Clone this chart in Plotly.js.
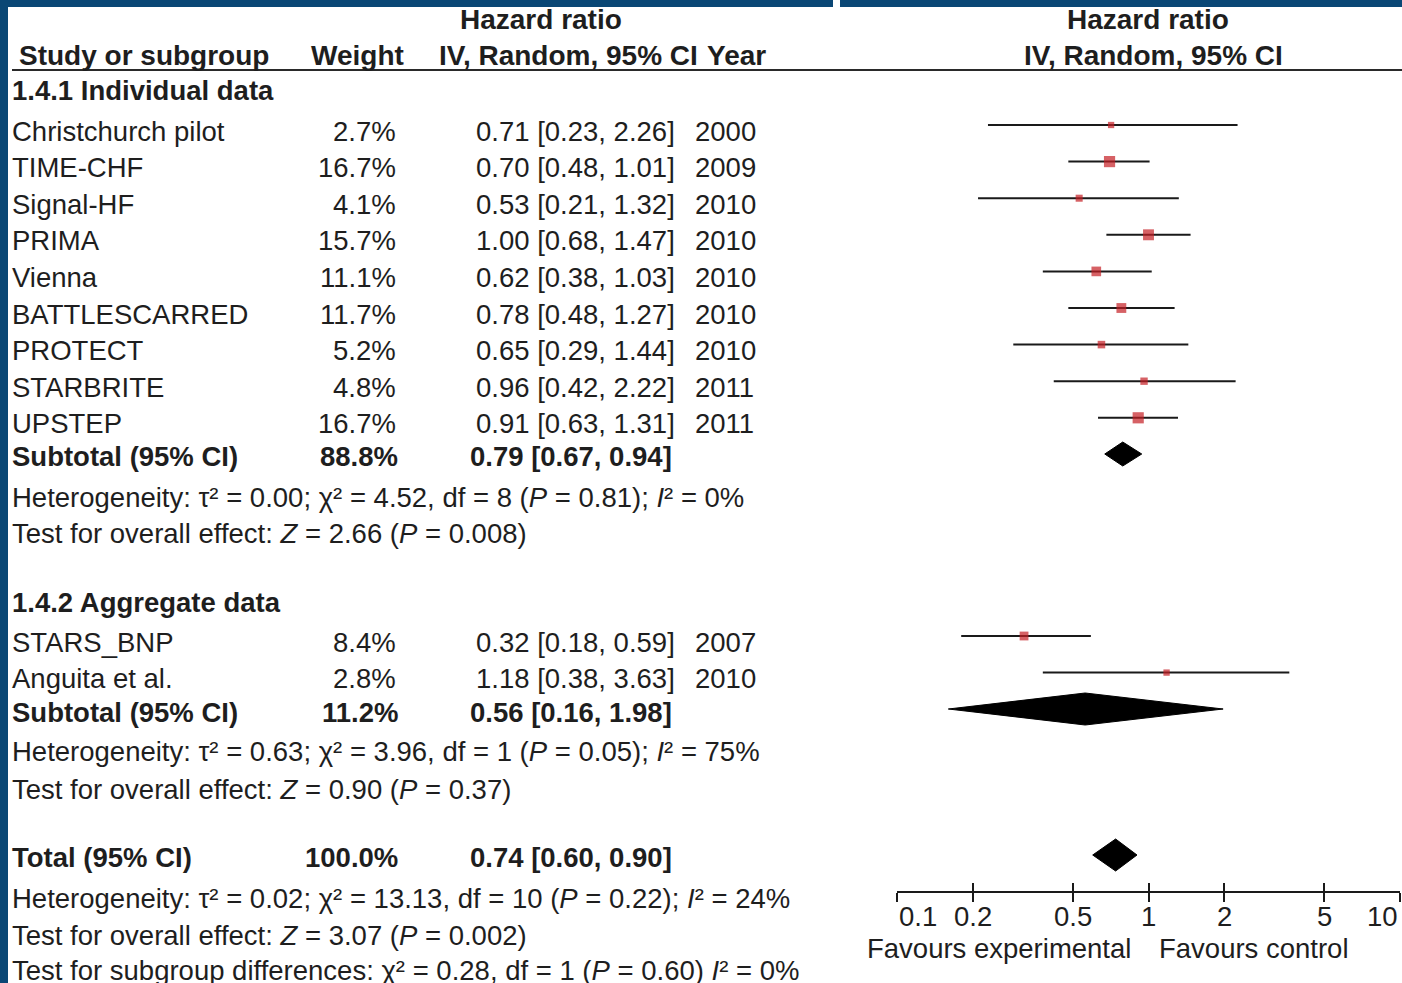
<!DOCTYPE html>
<html>
<head>
<meta charset="utf-8">
<script src="https://cdn.plot.ly/plotly-3.0.1.min.js"></script>
<style>
  html, body { margin: 0; padding: 0; background: #ffffff; }
  #chart { width: 1402px; height: 983px; }
</style>
</head>
<body>
<div id="chart"></div>
<script>
// ---------------- DATA ----------------
const groupTitles = ["1.4.1 Individual data", "1.4.2 Aggregate data"];

const studies1 = ["Christchurch pilot", "TIME-CHF", "Signal-HF", "PRIMA", "Vienna", "BATTLESCARRED", "PROTECT", "STARBRITE", "UPSTEP"];
const weights1 = [2.7, 16.7, 4.1, 15.7, 11.1, 11.7, 5.2, 4.8, 16.7];
const hr1 = [0.71, 0.70, 0.53, 1.00, 0.62, 0.78, 0.65, 0.96, 0.91];
const lo1 = [0.23, 0.48, 0.21, 0.68, 0.38, 0.48, 0.29, 0.42, 0.63];
const hi1 = [2.26, 1.01, 1.32, 1.47, 1.03, 1.27, 1.44, 2.22, 1.31];
const years1 = [2000, 2009, 2010, 2010, 2010, 2010, 2010, 2011, 2011];

const studies2 = ["STARS_BNP", "Anguita et al."];
const weights2 = [8.4, 2.8];
const hr2 = [0.32, 1.18];
const lo2 = [0.18, 0.38];
const hi2 = [0.59, 3.63];
const years2 = [2007, 2010];

// subtotal 1, subtotal 2, total
const pooledLabels = ["Subtotal (95% CI)", "Subtotal (95% CI)", "Total (95% CI)"];
const pooledWeights = [88.8, 11.2, 100.0];
const pooledHR = [0.79, 0.56, 0.74];
const pooledLo = [0.67, 0.16, 0.60];
const pooledHi = [0.94, 1.98, 0.90];

const hetText = [
  "Heterogeneity: τ² = 0.00; χ² = 4.52, df = 8 (<i>P</i> = 0.81); <i>I</i>² = 0%",
  "Heterogeneity: τ² = 0.63; χ² = 3.96, df = 1 (<i>P</i> = 0.05); <i>I</i>² = 75%",
  "Heterogeneity: τ² = 0.02; χ² = 13.13, df = 10 (<i>P</i> = 0.22); <i>I</i>² = 24%"
];
const effectText = [
  "Test for overall effect: <i>Z</i> = 2.66 (<i>P</i> = 0.008)",
  "Test for overall effect: <i>Z</i> = 0.90 (<i>P</i> = 0.37)",
  "Test for overall effect: <i>Z</i> = 3.07 (<i>P</i> = 0.002)"
];
const subgroupText = "Test for subgroup differences: χ² = 0.28, df = 1 (<i>P</i> = 0.60) <i>I</i>² = 0%";

const tickVals = [0.1, 0.2, 0.5, 1, 2, 5, 10];
const tickText = ["0.1", "0.2", "0.5", "1", "2", "5", "10"];
const favourLeft = "Favours experimental";
const favourRight = "Favours control";

// ---------------- LAYOUT (pixel rows) ----------------
const W = 1402, H = 983;
const AXIS_Y = 892;                 // pixel y of the x axis line
const FONT = "Liberation Sans, Arial, Helvetica, sans-serif";
const FS = 27.5;
const TXT = "#1e1e1e";
const RED = "#c41e24";
const NAVY = "#0a4775";
const LINE_OFF = -6;                // CI line sits slightly above the text centre

const rowStep = 36.6;
const rows1 = studies1.map((_, i) => 131 + i * rowStep);
const rows2 = studies2.map((_, i) => 642 + i * rowStep);
const pooledRows = [456, 712, 857];
const pooledMarkRows = [454, 709, 855];
const pooledHalf = [12, 16, 16];
const groupRows = [90, 602];
const hetRows = [497, 751, 898];
const effRows = [533, 789, 935];
const subgroupRow = 970;
const TICKLABEL_Y = 916, FAVOUR_Y = 948;

const COL_STUDY = 10, COL_WEIGHT = 398, COL_HR = 677, COL_YEAR = 693;

function px(x) { return x / W; }

const annotations = [];
function txt(text, x, y, anchor, opts) {
  opts = opts || {};
  annotations.push({
    text: opts.bold ? "<b>" + text + "</b>" : text,
    xref: opts.xref || "paper", x: opts.xref ? x : px(x),
    yref: "y", y: y,
    xanchor: anchor, yanchor: "middle",
    showarrow: false,
    font: { family: FONT, size: opts.size || FS, color: opts.color || TXT },
    align: anchor === "center" ? "center" : anchor
  });
}

const HFS = 28;
// headers
txt("Hazard ratio", 541, 19, "center", { bold: true, size: HFS });
txt("Study or subgroup", 17, 55, "left", { bold: true, size: HFS });
txt("Weight", 406, 55, "right", { bold: true, size: HFS });
txt("IV, Random, 95% CI", 437, 55, "left", { bold: true, size: HFS });
txt("Year", 705, 55, "left", { bold: true, size: HFS });
txt("Hazard ratio", 1148, 19, "center", { bold: true, size: HFS });
txt("IV, Random, 95% CI", 1153, 55, "center", { bold: true, size: HFS });

function fmtHR(h, l, u) { return h.toFixed(2) + " [" + l.toFixed(2) + ", " + u.toFixed(2) + "]"; }

// group 1
txt(groupTitles[0], COL_STUDY, groupRows[0], "left", { bold: true });
studies1.forEach((s, i) => {
  txt(s, COL_STUDY, rows1[i], "left");
  txt(weights1[i].toFixed(1) + "%", COL_WEIGHT, rows1[i], "right");
  txt(fmtHR(hr1[i], lo1[i], hi1[i]), COL_HR, rows1[i], "right");
  txt(String(years1[i]), COL_YEAR, rows1[i], "left");
});
// group 2
txt(groupTitles[1], COL_STUDY, groupRows[1], "left", { bold: true });
studies2.forEach((s, i) => {
  txt(s, COL_STUDY, rows2[i], "left");
  txt(weights2[i].toFixed(1) + "%", COL_WEIGHT, rows2[i], "right");
  txt(fmtHR(hr2[i], lo2[i], hi2[i]), COL_HR, rows2[i], "right");
  txt(String(years2[i]), COL_YEAR, rows2[i], "left");
});
// pooled rows
pooledLabels.forEach((lab, k) => {
  txt(lab, COL_STUDY, pooledRows[k], "left", { bold: true });
  txt(pooledWeights[k].toFixed(1) + "%", COL_WEIGHT + 2, pooledRows[k], "right", { bold: true });
  txt(fmtHR(pooledHR[k], pooledLo[k], pooledHi[k]), COL_HR - 3, pooledRows[k], "right", { bold: true });
  txt(hetText[k], COL_STUDY, hetRows[k], "left");
  txt(effectText[k], COL_STUDY, effRows[k], "left");
});
txt(subgroupText, COL_STUDY, subgroupRow, "left");

// axis tick labels (inward at the ends, like the original)
tickVals.forEach((v, i) => {
  const anchor = i === 0 ? "left" : (i === tickVals.length - 1 ? "right" : "center");
  txt(tickText[i], Math.log10(v), TICKLABEL_Y, anchor, { xref: "x" });
});
txt(favourLeft, 1133, FAVOUR_Y, "right");
txt(favourRight, 1157, FAVOUR_Y, "left");

// ---------------- TRACES ----------------
const allHR = hr1.concat(hr2), allLo = lo1.concat(lo2), allHi = hi1.concat(hi2);
const allW = weights1.concat(weights2);
const allRows = rows1.concat(rows2).map(r => r + LINE_OFF);

const ciX = [], ciY = [];
allLo.forEach((l, i) => { ciX.push(l, allHi[i], null); ciY.push(allRows[i], allRows[i], null); });

const traces = [];
traces.push({
  x: ciX, y: ciY, mode: "lines", type: "scatter", xaxis: "x", yaxis: "y",
  line: { color: "#1a1a1a", width: 2 }, hoverinfo: "skip", showlegend: false
});
traces.push({
  x: allHR, y: allRows, mode: "markers", type: "scatter", xaxis: "x", yaxis: "y",
  marker: { symbol: "square", color: RED, size: allW.map(w => 3 + 2 * Math.sqrt(w)), line: { width: 0 } },
  showlegend: false
});
pooledHR.forEach((h, k) => {
  const yc = pooledMarkRows[k], d = pooledHalf[k];
  traces.push({
    x: [pooledLo[k], h, pooledHi[k], h, pooledLo[k]],
    y: [yc, yc - d, yc, yc + d, yc],
    mode: "lines", fill: "toself", fillcolor: "#000000", type: "scatter",
    line: { color: "#000000", width: 1 }, xaxis: "x", yaxis: "y", showlegend: false, hoverinfo: "skip"
  });
});
// carrier for the tick overlay axis
traces.push({ x: [1], y: [AXIS_Y], mode: "markers", marker: { opacity: 0 }, xaxis: "x2", yaxis: "y",
  showlegend: false, hoverinfo: "skip", type: "scatter" });

const xDomain = [px(897), px(1400)];
const axisPos = (H - AXIS_Y) / H;
const layout = {
  width: W, height: H,
  margin: { l: 0, r: 0, t: 0, b: 0, pad: 0 },
  paper_bgcolor: "#ffffff", plot_bgcolor: "rgba(0,0,0,0)",
  showlegend: false,
  xaxis: {
    type: "log", range: [-1, 1], domain: xDomain, anchor: "free", position: axisPos,
    showgrid: false, zeroline: false, showline: true, linecolor: "#1a1a1a", linewidth: 2,
    ticks: "outside", ticklen: 9, tickwidth: 2, tickcolor: "#1a1a1a",
    tickvals: tickVals, showticklabels: false, fixedrange: true
  },
  xaxis2: {
    type: "log", range: [-1, 1], domain: xDomain, anchor: "free", position: axisPos, overlaying: "x",
    showgrid: false, zeroline: false, showline: false,
    ticks: "inside", ticklen: 9, tickwidth: 2, tickcolor: "#1a1a1a",
    tickvals: tickVals, showticklabels: false, side: "bottom"
  },
  yaxis: {
    range: [H, 0], domain: [0, 1],
    visible: false, showgrid: false, zeroline: false
  },
  annotations: annotations,
  shapes: [
    // no-effect line
    { type: "line", xref: "x", x0: 0, x1: 0, yref: "y", y0: 70, y1: AXIS_Y, line: { color: "#2a2a2a", width: 2 } },
    // header underline
    { type: "line", xref: "paper", x0: px(12), x1: 1, yref: "y", y0: 70, y1: 70, line: { color: "#2a2a2a", width: 2 } },
    // navy frame
    { type: "rect", xref: "paper", x0: 0, x1: px(8), yref: "paper", y0: 0, y1: 1, fillcolor: NAVY, line: { width: 0 } },
    { type: "rect", xref: "paper", x0: 0, x1: px(833), yref: "y", y0: 0, y1: 7, fillcolor: NAVY, line: { width: 0 } },
    { type: "rect", xref: "paper", x0: px(840), x1: 1, yref: "y", y0: 0, y1: 7, fillcolor: NAVY, line: { width: 0 } }
  ]
};

Plotly.newPlot("chart", traces, layout, { displayModeBar: false, staticPlot: true });
</script>
</body>
</html>
